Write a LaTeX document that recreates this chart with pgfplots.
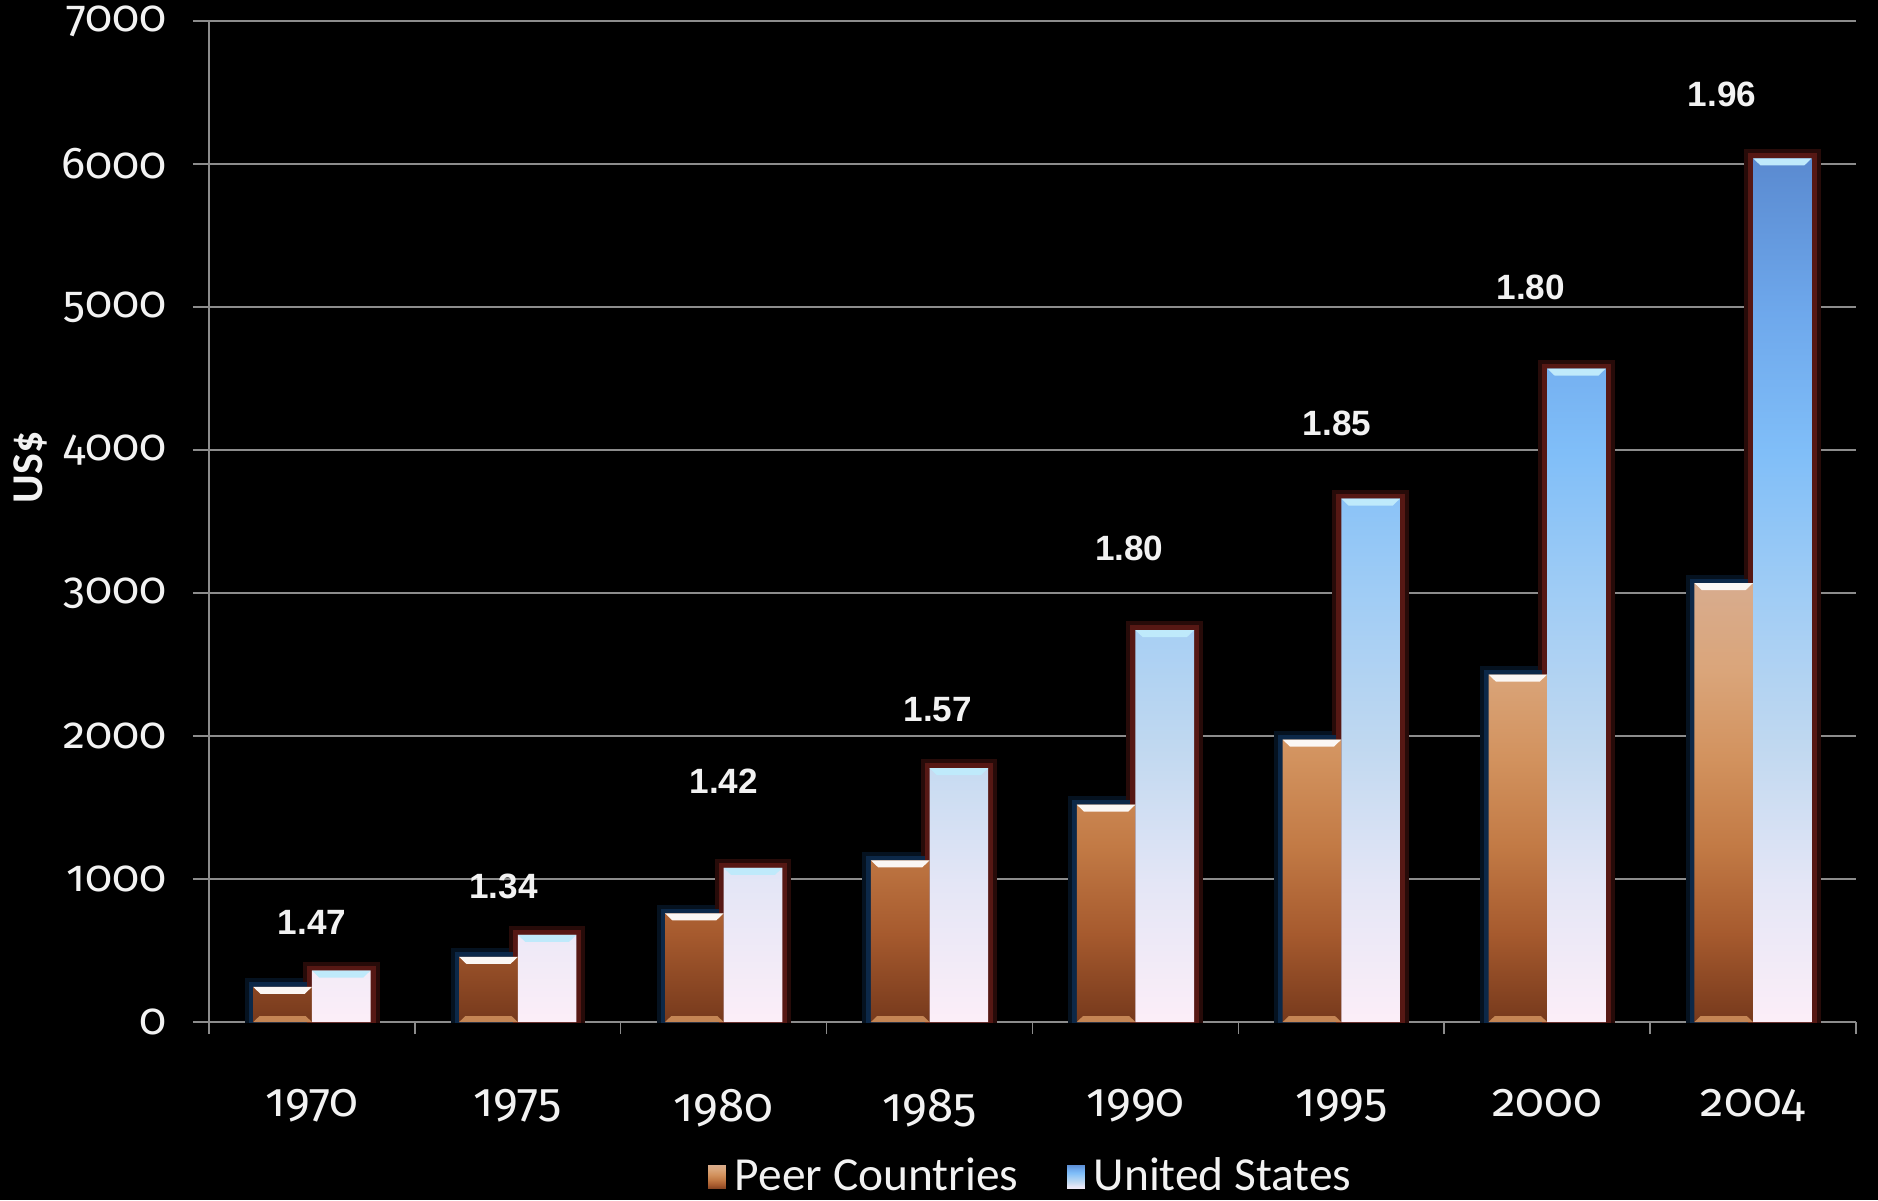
\documentclass[border=0pt]{standalone}
\usepackage{fontspec}
\setmainfont{Carlito}
\newfontfamily\tickfont{Fira Sans}[Numbers=OldStyle]
\newfontfamily\valfont{Liberation Sans}
\usepackage{pgfplots}
\usepackage{pgfplotstable}
\pgfplotsset{compat=1.18}

\definecolor{gridgray}{HTML}{8C8C8C}
\definecolor{glowred}{HTML}{561814}
\definecolor{glowblue}{HTML}{0C2848}
\definecolor{txt}{HTML}{F2F2F2}
% peer bar gradient stops, bottom to top
\definecolor{pA}{HTML}{76391C}
\definecolor{pB}{HTML}{A65A2E}
\definecolor{pC}{HTML}{C27A45}
\definecolor{pD}{HTML}{D2925E}
\definecolor{pE}{HTML}{DAA57A}
\definecolor{pF}{HTML}{D8AC8E}
% US bar gradient stops, bottom to top
\definecolor{uA}{HTML}{FCEEF8}
\definecolor{uB}{HTML}{E4E6F6}
\definecolor{uC}{HTML}{C0D8F0}
\definecolor{uD}{HTML}{9FCCF5}
\definecolor{uE}{HTML}{80BEF8}
\definecolor{uF}{HTML}{6EA8EC}
\definecolor{uG}{HTML}{5A8AD0}

\pgfdeclareverticalshading{peergrad}{100bp}{color(0bp)=(pA); color(25bp)=(pA);
  color(35bp)=(pB); color(45bp)=(pC); color(55bp)=(pD); color(65bp)=(pE);
  color(75bp)=(pF); color(100bp)=(pF)}
\pgfdeclareverticalshading{usgrad}{100bp}{color(0bp)=(uA); color(25bp)=(uA);
  color(33bp)=(uB); color(41bp)=(uC); color(50bp)=(uD); color(58bp)=(uE);
  color(66bp)=(uF); color(75bp)=(uG); color(100bp)=(uG)}

% spending per capita (US$)
\pgfplotstableread{
x y
0 245
1 455
2 760
3 1130
4 1520
5 1975
6 2430
7 3070
}\peerdata
\pgfplotstableread{
x y
0 360
1 610
2 1078
3 1775
4 2740
5 3660
6 4570
7 6040
}\usdata
% US / peer ratio labels
\pgfplotstableread{
x y t
0 696 1.47
0.93 948 1.34
2 1685 1.42
3.04 2187 1.57
3.97 3310 1.80
4.98 4183 1.85
5.92 5140 1.80
6.85 6490 1.96
}\ratiodata

% bevelled highlights on the top and bottom edges of a bar (bar is 5.87mm wide)
\pgfdeclareplotmark{barcap}{%
  \pgfpathmoveto{\pgfpoint{-2.93mm}{0mm}}%
  \pgfpathlineto{\pgfpoint{2.93mm}{0mm}}%
  \pgfpathlineto{\pgfpoint{2.2mm}{-0.7mm}}%
  \pgfpathlineto{\pgfpoint{-2.2mm}{-0.7mm}}%
  \pgfpathclose
  \pgfusepathqfill}
\pgfdeclareplotmark{barfoot}{%
  \pgfpathmoveto{\pgfpoint{-2.93mm}{0mm}}%
  \pgfpathlineto{\pgfpoint{2.93mm}{0mm}}%
  \pgfpathlineto{\pgfpoint{2.3mm}{0.6mm}}%
  \pgfpathlineto{\pgfpoint{-2.3mm}{0.6mm}}%
  \pgfpathclose
  \pgfusepathqfill}

\begin{document}
\begin{tikzpicture}
\fill[black] (-20.9mm,-17.8mm) rectangle (166.9mm,102.2mm);
\begin{axis}[
  width=164.7mm, height=100.1mm, scale only axis,
  xmin=-0.5, xmax=7.5, ymin=0, ymax=7000,
  axis x line*=bottom, axis y line*=left,
  axis line style={gridgray, line width=0.15mm},
  ymajorgrids, grid style={gridgray, line width=0.15mm},
  ytick={0,1000,...,7000},
  xtick={0,...,7},
  xticklabels={1970,1975,1980,1985,1990,1995,2000,2004},
  minor xtick={-0.5,0.5,...,7.5},
  major x tick style={draw=none},
  minor x tick style={gridgray, line width=0.15mm},
  y tick style={gridgray, line width=0.15mm},
  tick align=outside,
  major tick length=1.6mm, minor tick length=1.2mm,
  scaled y ticks=false,
  /pgf/number format/1000 sep={},
  /pgf/number format/assume math mode=true,
  xticklabel style={font=\tickfont\fontsize{13.5}{14}\selectfont, text=txt, yshift=-3.9mm},
  yticklabel style={font=\tickfont\fontsize{12.7}{14}\selectfont, text=txt, xshift=-1.4mm},
  ylabel={\bfseries US\$},
  ylabel style={font=\fontsize{12.5}{14}\selectfont, text=txt,
    at={(axis description cs:-0.1087,0.554)}, anchor=center},
  legend style={at={(axis description cs:0.5,-0.155)}, anchor=center,
    legend columns=2, draw=none, fill=none, text=txt,
    font=\fontsize{13.5}{14}\selectfont,
    /tikz/every even column/.append style={column sep=4mm}},
]
% soft glows behind the bars
\addplot[ybar, forget plot, bar width=0.285, bar shift=-0.1425,
  draw=glowblue!45!black, line width=1.7mm, fill=none] table[x=x,y=y] {\peerdata};
\addplot[ybar, forget plot, bar width=0.285, bar shift=0.1425,
  draw=glowred!45!black, line width=1.8mm, fill=none] table[x=x,y=y] {\usdata};
\addplot[ybar, forget plot, bar width=0.285, bar shift=-0.1425,
  draw=glowblue, line width=0.9mm, fill=none] table[x=x,y=y] {\peerdata};
\addplot[ybar, forget plot, bar width=0.285, bar shift=0.1425,
  draw=glowred, line width=1.0mm, fill=none] table[x=x,y=y] {\usdata};
% bars
\addplot[ybar, forget plot, bar width=0.285, bar shift=-0.1425, draw=none,
  shading=peergrad] table[x=x,y=y] {\peerdata};
\addplot[ybar, forget plot, bar width=0.285, bar shift=0.1425, draw=none,
  shading=usgrad] table[x=x,y=y] {\usdata};
% highlights on the bar tops and feet
\addplot[forget plot, only marks, mark=barcap, mark options={fill=white!90!pF, draw=none}]
  table[x expr=\thisrow{x}-0.1425, y=y] {\peerdata};
\addplot[forget plot, only marks, mark=barcap, mark options={fill=cyan!25!white, draw=none}]
  table[x expr=\thisrow{x}+0.1425, y=y] {\usdata};
\addplot[forget plot, only marks, mark=barfoot, mark options={fill=pD!85!pA, draw=none}]
  table[x expr=\thisrow{x}-0.1425, y expr=0] {\peerdata};
% ratio labels
\addplot[forget plot, draw=none, mark=none, nodes near coords,
  point meta=explicit symbolic,
  nodes near coords style={font=\valfont\bfseries\fontsize{10}{12}\selectfont,
    text=txt, anchor=center}] table[x=x,y=y,meta=t] {\ratiodata};

\addlegendimage{legend image code/.code={\fill[shading=peergrad]
  (0mm,-1.3mm) rectangle (2mm,1.3mm);}}
\addlegendentry{Peer Countries}
\addlegendimage{legend image code/.code={\fill[shading=usgrad]
  (0mm,-1.3mm) rectangle (2mm,1.3mm);}}
\addlegendentry{United States}
\end{axis}
\pgfresetboundingbox
\useasboundingbox (-20.9mm,-17.8mm) rectangle (166.9mm,102.2mm);
\end{tikzpicture}
\end{document}
